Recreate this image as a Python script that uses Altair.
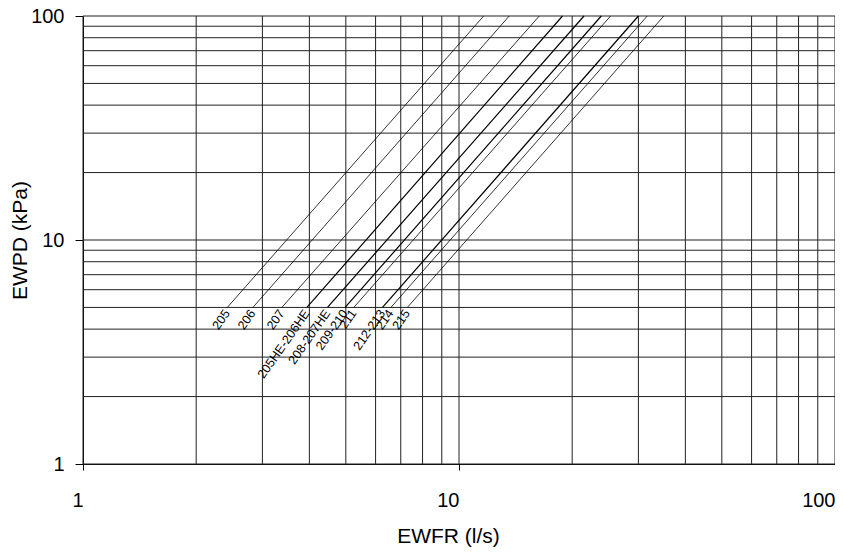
import altair as alt
import pandas as pd

# ---- data ----
models = ["205", "206", "207", "205HE-206HE", "208-207HE", "209-210", "211", "212-213", "214", "215"]
flow_at_low = [2.42, 2.83, 3.38, 3.94, 4.47, 4.98, 5.25, 6.26, 6.59, 7.29]      # EWFR (l/s) at 5 kPa
flow_at_high = [11.63, 13.6, 16.35, 18.85, 21.5, 23.9, 25.3, 30.0, 31.66, 35.05]  # EWFR (l/s) at 100 kPa
pd_low = 5
pd_high = 100
grid_values = [1, 2, 3, 4, 5, 6, 7, 8, 9, 10, 20, 30, 40, 50, 60, 70, 80, 90, 100]
tick_values = [1, 10, 100]

rows = []
for m, lo, hi in zip(models, flow_at_low, flow_at_high):
    rows.append({"model": m, "ewfr": lo, "ewpd": pd_low, "double": "-" in m})
    rows.append({"model": m, "ewfr": hi, "ewpd": pd_high, "double": "-" in m})
lines_df = pd.DataFrame(rows)
labels_df = pd.DataFrame({"model": models, "ewfr": flow_at_low, "ewpd": [pd_low] * len(models)})
grid_df = pd.DataFrame({"v": grid_values})

FONT = "Liberation Sans"

xscale = alt.Scale(type="log", domain=[1, 100], nice=False)
yscale = alt.Scale(type="log", domain=[1, 100], nice=False)

xaxis = alt.Axis(values=tick_values, format="d", grid=False, tickSize=6, tickColor="black",
                 domainColor="black", labelAlign="right", labelBaseline="top",
                 labelPadding=20, labelFontSize=20, labelFont=FONT, labelColor="black",
                 title="EWFR (l/s)", titleFont=FONT, titleFontSize=21, titleFontWeight="normal",
                 titleColor="black", titleX=365, titleY=72, titleBaseline="middle")
yaxis = alt.Axis(values=tick_values, format="d", grid=False, tickSize=8, tickColor="black",
                 domainColor="black", labelBaseline="middle", labelPadding=11,
                 labelFontSize=20, labelFont=FONT, labelColor="black",
                 title="EWPD (kPa)", titleFont=FONT, titleFontSize=21, titleFontWeight="normal",
                 titleColor="black", titleX=-63, titleY=224, titleBaseline="middle")

gx = alt.Chart(grid_df).mark_rule(color="#222", strokeWidth=1).encode(
    x=alt.X("v:Q", scale=xscale, axis=xaxis))
gy = alt.Chart(grid_df).mark_rule(color="#222", strokeWidth=1).encode(
    y=alt.Y("v:Q", scale=yscale, axis=yaxis))

lines = alt.Chart(lines_df).mark_line(color="black").encode(
    x=alt.X("ewfr:Q", scale=xscale, axis=xaxis),
    y=alt.Y("ewpd:Q", scale=yscale, axis=yaxis),
    detail="model:N",
    strokeWidth=alt.condition("datum.double", alt.value(1.2), alt.value(0.8)),
)

labels = alt.Chart(labels_df).mark_text(
    angle=305, align="right", baseline="middle", dx=-3, dy=2,
    fontSize=12.5, font=FONT, color="#000000"
).encode(
    x=alt.X("ewfr:Q", scale=xscale, axis=xaxis),
    y=alt.Y("ewpd:Q", scale=yscale, axis=yaxis),
    text="model:N",
)

chart = alt.layer(gx, gy, lines, labels).properties(
    width=752, height=448,
    autosize=alt.AutoSizeParams(type="none"),
    padding={"left": 75, "top": 8, "right": 0, "bottom": 83},
    background="white",
).configure_view(stroke=None)

chart.save("out.html", embed_options={"renderer": "svg", "actions": False})
